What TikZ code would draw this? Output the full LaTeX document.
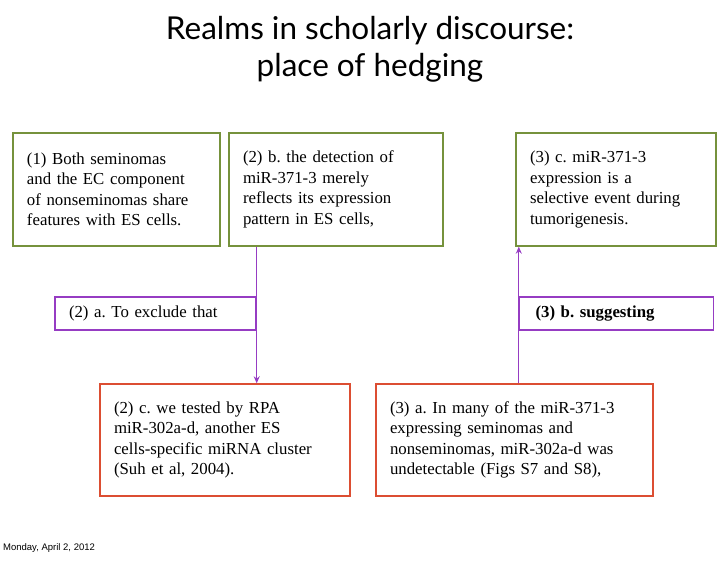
\documentclass[tikz,border=0pt]{standalone}
\usepackage{fontspec}
\setmainfont{Liberation Serif}
\newfontfamily\titlefont{Lato}
\newfontfamily\footfont{Liberation Sans}
\usetikzlibrary{calc, arrows.meta}
\definecolor{boxgreen}{RGB}{118,146,60}
\definecolor{hedgeviolet}{RGB}{150,60,195}
\definecolor{boxred}{RGB}{220,78,50}

\begin{document}
\frenchspacing
\begin{tikzpicture}[x=1pt, y=-1pt, >={Stealth[length=7pt, width=6pt]},
    textbox/.style={draw, line width=1.4pt, align=left, inner xsep=14pt, inner ysep=0pt,
      font=\fontsize{16.8}{20.5}\selectfont},
    greenbox/.style={textbox, draw=boxgreen, minimum height=113pt},
    hedgebox/.style={textbox, draw=hedgeviolet, minimum height=33pt},
    redbox/.style={textbox, draw=boxred, minimum height=112pt}]
  \useasboundingbox (0,0) rectangle (728,561);

  % Title
  \node[font=\titlefont\fontsize{31.5}{37}\selectfont, align=center] (title) at (370,49)
    {Realms in scholarly discourse:\\place of hedging};

  % Top row
  \node[greenbox, text width=179pt] (b1) at (116.5,189.5)
    {(1) Both seminomas\\and the EC component\\of nonseminomas share\\features with ES cells.};
  \node[greenbox, text width=186pt] (b2) at (336,189.5)
    {(2) b. the detection of\\miR-371-3 merely\\reflects its expression\\pattern in ES cells,};
  \node[greenbox, text width=172pt] (b3) at (616,189.5)
    {(3) c. miR-371-3\\expression is a\\selective event during\\tumorigenesis.};

  % Hedges
  \node[hedgebox, text width=173pt] (h2a) at (155.5,313.5) {(2) a. To exclude that};
  \node[hedgebox, text width=162pt, inner xsep=16pt] (h3b) at (616.5,313.5) {\textbf{(3) b. suggesting}};

  % Bottom row
  \node[redbox, text width=222pt] (r2c) at (225,440)
    {(2) c. we tested by RPA\\miR-302a-d, another ES\\cells-specific miRNA cluster\\(Suh et al, 2004).};
  \node[redbox, text width=249pt] (r3a) at (514.5,440)
    {(3) a. In many of the miR-371-3\\expressing seminomas and\\nonseminomas, miR-302a-d was\\undetectable (Figs S7 and S8),};

  % Connectors
  \draw[->, hedgeviolet, line width=1pt] (b2.south -| h2a.east) -- (r2c.north -| h2a.east);
  \draw[->, hedgeviolet, line width=1pt] (r3a.north -| h3b.west) -- (b3.south -| h3b.west);

  % Date
  \node[font=\footfont\fontsize{9.5}{11}\selectfont, anchor=west, inner sep=0pt] (date) at (3,548)
    {Monday, April 2, 2012};
\end{tikzpicture}
\end{document}
